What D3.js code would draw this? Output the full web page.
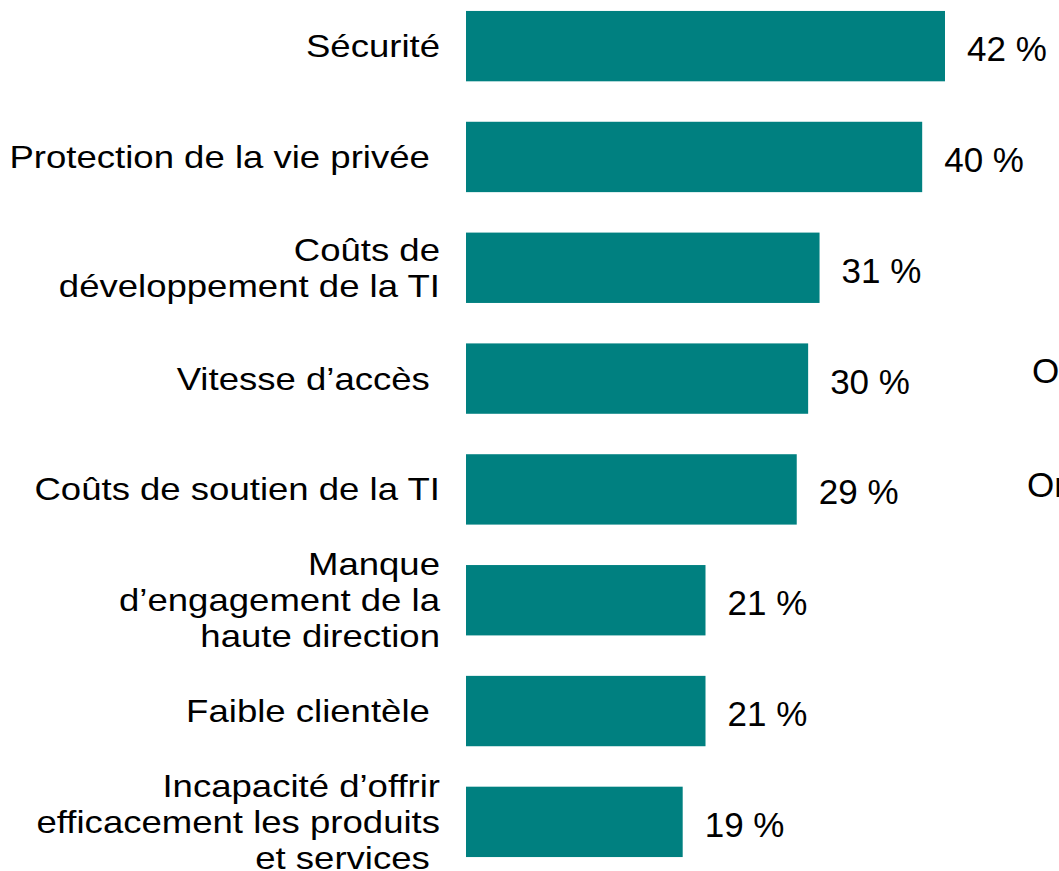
<!DOCTYPE html>
<html>
<head>
<meta charset="utf-8">
<script src="https://cdn.jsdelivr.net/npm/d3@7"></script>
<style>
  body { margin: 0; background: #fff; }
  svg text { font-family: "Liberation Sans", Arial, sans-serif; font-size: 35px; fill: #000; white-space: pre; }
  svg text.cat { font-size: 31.5px; }
</style>
</head>
<body>
<div id="chart"></div>
<script>
// categories, one array per wrapped line
var categories = [
  ["Sécurité"],
  ["Protection de la vie privée "],
  ["Coûts de", "développement de la TI"],
  ["Vitesse d’accès "],
  ["Coûts de soutien de la TI"],
  ["Manque", "d’engagement de la", "haute direction"],
  ["Faible clientèle "],
  ["Incapacité d’offrir", "efficacement les produits", "et services "]
];
var values = [42, 40, 31, 30, 29, 21, 21, 19];
// text cut off at the right edge of the picture
var sideNotes = ["O", "On"];

var width = 1059, height = 871;
var barLeft = 466, labelRight = 440, lineHeight = 36;
// the category labels are drawn wider than they are tall
var labelStretch = 1.16;

var svg = d3.select("#chart")
  .append("svg")
  .attr("width", width)
  .attr("height", height);

var y = d3.scaleBand()
  .domain(d3.range(values.length))
  .range([-9, 877])
  .paddingInner(0.365)
  .paddingOuter(0.18);

var x = d3.scaleLinear()
  .domain([0, 42])
  .range([barLeft, 945]);

var rows = svg.selectAll("g.row")
  .data(values)
  .enter()
  .append("g")
  .attr("class", "row");

rows.append("rect")
  .attr("x", x(0))
  .attr("y", function(d, i) { return y(i); })
  .attr("width", function(d) { return x(d) - x(0); })
  .attr("height", y.bandwidth())
  .attr("fill", "#008080");

//value labels
rows.append("text")
  .attr("x", function(d) { return x(d) + 22; })
  .attr("y", function(d, i) { return y(i) + y.bandwidth() / 2 + 15; })
  .text(function(d) { return d + " %"; });

//category labels, centred on the middle line
rows.append("text")
  .attr("class", "cat")
  .attr("text-anchor", "end")
  .attr("transform", "translate(" + labelRight + ",0) scale(" + labelStretch + ",1)")
  .each(function(d, i) {
    var lines = categories[i];
    var mid = y(i) + y.bandwidth() / 2 + 11;
    d3.select(this).selectAll("tspan")
      .data(lines)
      .enter()
      .append("tspan")
      .attr("x", 0)
      .attr("y", function(l, j) { return mid + (j - (lines.length - 1) / 2) * lineHeight; })
      .text(function(l) { return l; });
  });

svg.selectAll("text.note")
  .data(sideNotes)
  .enter()
  .append("text")
  .attr("class", "note")
  .attr("x", function(d, i) { return i === 0 ? 1032 : 1027; })
  .attr("y", function(d, i) { return i === 0 ? 383 : 497; })
  .text(function(d) { return d; });
</script>
</body>
</html>
